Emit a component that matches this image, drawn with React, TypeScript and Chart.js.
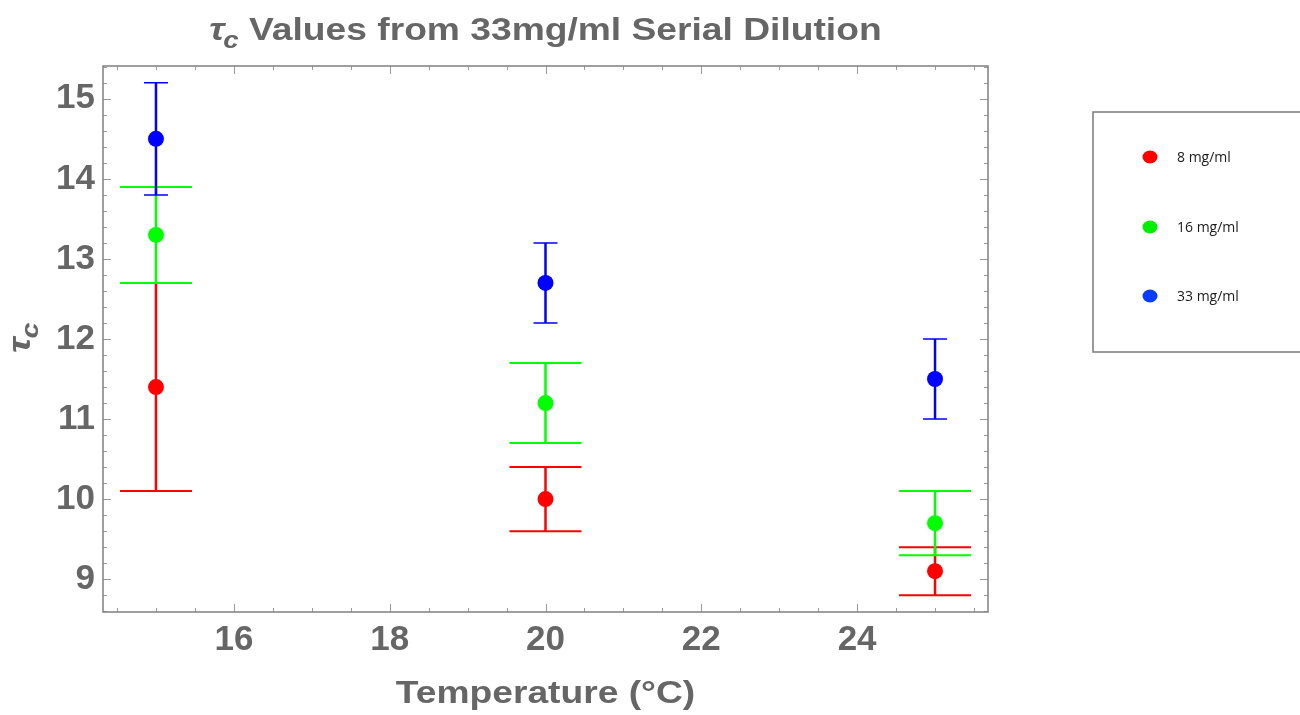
import React, { useEffect, useRef } from 'react';
import { Chart, registerables } from 'chart.js';

Chart.register(...registerables);

// ---- Data ----
const temperatures = [15, 20, 25];
const seriesLabels = ['8 mg/ml', '16 mg/ml', '33 mg/ml'];

const tau8 = [11.4, 10.0, 9.1];
const tau8Low = [10.1, 9.6, 8.8];
const tau8High = [12.7, 10.4, 9.4];

const tau16 = [13.3, 11.2, 9.7];
const tau16Low = [12.7, 10.7, 9.3];
const tau16High = [13.9, 11.7, 10.1];

const tau33 = [14.5, 12.7, 11.5];
const tau33Low = [13.8, 12.2, 11.0];
const tau33High = [15.2, 13.2, 12.0];

const xTicks = [16, 18, 20, 22, 24];
const yTicks = [9, 10, 11, 12, 13, 14, 15];

const GRAY = '#666666';
const FONT = '"Liberation Sans", Arial, sans-serif';

const errorBarPlugin = {
  id: 'errorBars',
  beforeDatasetDraw(chart: any, args: any) {
    const ds: any = chart.data.datasets[args.index];
    const xs = chart.scales.x;
    const ys = chart.scales.y;
    const ctx = chart.ctx;
    ctx.save();
    ctx.strokeStyle = ds.backgroundColor;
    ds.data.forEach((p: any, i: number) => {
      const x = xs.getPixelForValue(p.x);
      const yl = ys.getPixelForValue(ds.errLow[i]);
      const yh = ys.getPixelForValue(ds.errHigh[i]);
      ctx.lineWidth = 2.5;
      ctx.beginPath();
      ctx.moveTo(x, yl);
      ctx.lineTo(x, yh);
      ctx.stroke();
      ctx.lineWidth = ds.capWidth;
      ctx.beginPath();
      ctx.moveTo(x - ds.capHalf, yl);
      ctx.lineTo(x + ds.capHalf, yl);
      ctx.moveTo(x - ds.capHalf, yh);
      ctx.lineTo(x + ds.capHalf, yh);
      ctx.stroke();
    });
    ctx.restore();
  },
};

const framePlugin = {
  id: 'frame',
  beforeDatasetsDraw(chart: any) {
    const { ctx, chartArea } = chart;
    const { left, right, top, bottom } = chartArea;
    const xs = chart.scales.x;
    const ys = chart.scales.y;
    ctx.save();
    ctx.strokeStyle = '#9a9a9a';
    ctx.lineWidth = 1;
    ctx.beginPath();
    for (let v = Math.ceil(xs.min * 2) / 2; v <= xs.max + 1e-9; v += 0.5) {
      const major = Math.abs(v / 2 - Math.round(v / 2)) < 1e-6;
      const len = major ? 8 : 4;
      const x = Math.round(xs.getPixelForValue(v)) + 0.5;
      ctx.moveTo(x, bottom);
      ctx.lineTo(x, bottom - len);
      ctx.moveTo(x, top);
      ctx.lineTo(x, top + len);
    }
    for (let k = Math.ceil(ys.min * 5); k <= Math.floor(ys.max * 5); k++) {
      const v = k / 5;
      const major = k % 5 === 0;
      const len = major ? 8 : 4;
      const y = Math.round(ys.getPixelForValue(v)) + 0.5;
      ctx.moveTo(left, y);
      ctx.lineTo(left + len, y);
      ctx.moveTo(right, y);
      ctx.lineTo(right - len, y);
    }
    ctx.stroke();
    ctx.strokeStyle = '#808080';
    ctx.lineWidth = 1.5;
    ctx.strokeRect(left, top, right - left, bottom - top);
    ctx.restore();
  },
};

function drawTauC(ctx: CanvasRenderingContext2D, x: number, y: number, big: number, small: number, drop: number) {
  ctx.font = `italic bold ${big}px ${FONT}`;
  ctx.fillText('τ', x, y);
  const w = ctx.measureText('τ').width;
  ctx.font = `italic bold ${small}px ${FONT}`;
  ctx.fillText('c', x + w - 1, y + drop);
  return w - 1 + ctx.measureText('c').width;
}

const textPlugin = {
  id: 'texts',
  afterDraw(chart: any) {
    const { ctx, chartArea } = chart;
    const cx = (chartArea.left + chartArea.right) / 2;
    const sx = 1.2;
    ctx.save();
    ctx.fillStyle = GRAY;
    ctx.textBaseline = 'alphabetic';
    ctx.textAlign = 'left';

    // Title
    const rest = ' Values from 33mg/ml Serial Dilution';
    ctx.font = `italic bold 31px ${FONT}`;
    const wt = ctx.measureText('τ').width - 1;
    ctx.font = `italic bold 23px ${FONT}`;
    const wc = ctx.measureText('c').width;
    ctx.font = `bold 31px ${FONT}`;
    const wr = ctx.measureText(rest).width;
    const total = wt + wc + wr;
    ctx.save();
    ctx.translate(cx, 40);
    ctx.scale(sx, 1);
    const start = -total / 2;
    drawTauC(ctx, start, 0, 31, 23, 8);
    ctx.font = `bold 31px ${FONT}`;
    ctx.fillText(rest, start + wt + wc, 0);
    ctx.restore();

    // X axis title
    ctx.save();
    ctx.translate(cx, 703);
    ctx.scale(sx, 1);
    ctx.font = `bold 31px ${FONT}`;
    ctx.textAlign = 'center';
    ctx.fillText('Temperature (°C)', 0, 0);
    ctx.restore();

    // Y axis title
    ctx.save();
    ctx.translate(30, 353);
    ctx.rotate(-Math.PI / 2);
    ctx.scale(sx, 1);
    drawTauC(ctx, 0, 0, 32, 24, 8);
    ctx.restore();

    // Legend
    ctx.strokeStyle = '#7a7a7a';
    ctx.lineWidth = 1.5;
    ctx.strokeRect(1093, 112, 240, 240);
    const rows = [157, 227, 296];
    chart.data.datasets.forEach((ds: any, i: number) => {
      ctx.fillStyle = ds.legendColor;
      ctx.beginPath();
      ctx.ellipse(1150, rows[i], 7.5, 6.5, 0, 0, Math.PI * 2);
      ctx.fill();
      ctx.fillStyle = '#1a1a1a';
      ctx.font = `14px "Open Sans", sans-serif`;
      ctx.textBaseline = 'middle';
      ctx.fillText(ds.label, 1177, rows[i] + 1);
    });
    ctx.restore();
  },
};

function pts(ys: number[]) {
  return temperatures.map((t, i) => ({ x: t, y: ys[i] }));
}

export default function App() {
  const ref = useRef<HTMLCanvasElement | null>(null);
  useEffect(() => {
    document.body.style.margin = '0';
    const canvas = ref.current;
    if (!canvas) return;
    const tickFont = { family: FONT, size: 35, weight: 'bold' as const };
    const chart = new Chart(canvas, {
      type: 'scatter',
      data: {
        datasets: [
          {
            label: seriesLabels[0],
            data: pts(tau8),
            errLow: tau8Low,
            errHigh: tau8High,
            backgroundColor: '#ff0000',
            legendColor: '#ff0000',
            capHalf: 36,
            capWidth: 2,
            pointRadius: 8,
            borderWidth: 0,
            order: 3,
          },
          {
            label: seriesLabels[1],
            data: pts(tau16),
            errLow: tau16Low,
            errHigh: tau16High,
            backgroundColor: '#00ff00',
            legendColor: '#00ee00',
            capHalf: 36,
            capWidth: 2,
            pointRadius: 8,
            borderWidth: 0,
            order: 2,
          },
          {
            label: seriesLabels[2],
            data: pts(tau33),
            errLow: tau33Low,
            errHigh: tau33High,
            backgroundColor: '#0000ff',
            legendColor: '#0a3cff',
            capHalf: 12,
            capWidth: 1.5,
            pointRadius: 8,
            borderWidth: 0,
            order: 1,
          },
        ] as any,
      },
      options: {
        animation: false,
        responsive: false,
        layout: { padding: { top: 66, right: 312, left: 0, bottom: 0 } },
        plugins: {
          legend: { display: false },
          tooltip: { enabled: false },
          title: { display: false },
        },
        scales: {
          x: {
            type: 'linear',
            min: 14.32,
            max: 25.68,
            afterFit: (s: any) => {
              s.height = 103;
            },
            afterBuildTicks: (s: any) => {
              s.ticks = xTicks.map((v) => ({ value: v }));
            },
            grid: { display: false, drawTicks: false },
            border: { display: false },
            ticks: { font: tickFont, color: GRAY, padding: 7, maxRotation: 0 },
          },
          y: {
            type: 'linear',
            min: 8.59,
            max: 15.41,
            afterFit: (s: any) => {
              s.width = 103;
            },
            afterBuildTicks: (s: any) => {
              s.ticks = yTicks.map((v) => ({ value: v }));
            },
            grid: { display: false, drawTicks: false },
            border: { display: false },
            ticks: { font: tickFont, color: GRAY, padding: 8 },
          },
        },
      } as any,
      plugins: [framePlugin, errorBarPlugin, textPlugin],
    });
    return () => chart.destroy();
  }, []);
  return (
    <div style={{ width: 1300, height: 715, background: '#fff' }}>
      <canvas ref={ref} width={1300} height={715} style={{ display: 'block' }} />
    </div>
  );
}
